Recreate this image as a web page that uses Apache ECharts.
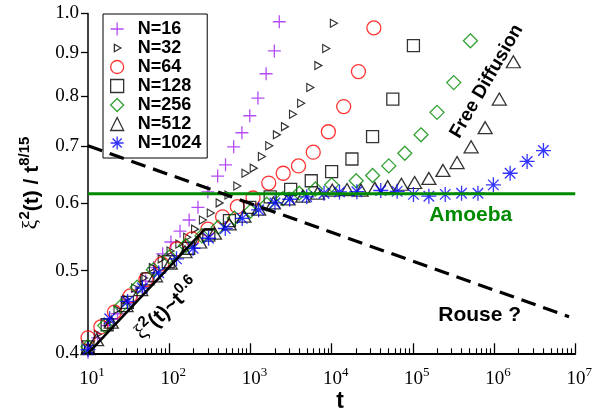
<!DOCTYPE html>
<html><head><meta charset="utf-8">
<script src="https://cdn.jsdelivr.net/npm/echarts@6/dist/echarts.min.js"></script>
<style>html,body{margin:0;padding:0;background:#fff}#c{width:595px;height:414px}</style>
</head><body><div id="c"></div>
<script>
// ---- data (t, xi^2(t)/t^(8/15)) ----
const n16 = [[10,0.401],[13.2,0.417],[17.5,0.431],[23.1,0.445],[30.5,0.458],[40.3,0.472],[51.3,0.486],[64.6,0.504],[83.1,0.523],[105,0.540],[136,0.556],[176,0.573],[226,0.593],[299,0.618],[395,0.645],[494,0.665],[622,0.698],[786,0.725],[982,0.759],[1238,0.796],[1560,0.850],[1970,0.904],[2266,0.978]];
const n32 = [[10,0.406],[13.2,0.421],[17.5,0.435],[23.1,0.450],[29.6,0.463],[38.1,0.477],[48.9,0.490],[62.9,0.504],[80.8,0.516],[103.8,0.527],[133.3,0.537],[166.6,0.547],[208.2,0.559],[260.1,0.573],[325.1,0.584],[417.7,0.600],[536.6,0.613],[689.7,0.628],[869,0.650],[1098,0.659],[1384,0.680],[1705,0.700],[2119,0.721],[2663,0.737],[3345,0.762],[4214,0.785],[5462,0.819],[6863,0.869],[8578,0.910],[10660,0.974]];
const n64 = [[10,0.417],[14.4,0.4295],[21.2,0.447],[33.1,0.467],[51.7,0.488],[80.8,0.509],[123.7,0.530],[191.5,0.5445],[299,0.559],[454,0.578],[690,0.594],[1077,0.608],[1681,0.633],[2533,0.650],[3911,0.663],[5936,0.688],[9118,0.727],[14080,0.778],[21390,0.855],[33110,0.962]];
const n128 = [[10,0.407],[17.2,0.432],[30.5,0.459],[54.7,0.489],[97.3,0.512],[173.7,0.531],[307.5,0.550],[551.8,0.572],[982,0.593],[1753,0.610],[3129,0.6225],[5615,0.637],[10000,0.653],[17790,0.6755],[31930,0.7175],[56670,0.794],[101700,0.917]];
const n256 = [[10,0.407],[16.05,0.431],[25.42,0.454],[40.25,0.478],[63.74,0.501],[100.9,0.519],[159.8,0.535],[252.9,0.549],[400.5,0.562],[634.3,0.576],[1004,0.587],[1591,0.598],[2518,0.607],[3988,0.616],[6313,0.623],[10000,0.630],[20060,0.637],[31940,0.646],[50580,0.663],[79620,0.686],[126100,0.721],[198500,0.766],[318800,0.830],[511700,0.929]];
const n512 = [[10,0.405],[12.74,0.415],[19.35,0.435],[29.38,0.455],[44.63,0.475],[67.76,0.493],[102.9,0.510],[156.3,0.526],[237.4,0.540],[360.5,0.553],[547.4,0.567],[831.2,0.579],[1262,0.590],[1917,0.600],[2911,0.6065],[4420,0.611],[6714,0.616],[10190,0.621],[15480,0.622],[23060,0.621],[34060,0.624],[48920,0.627],[72250,0.631],[105200,0.634],[157600,0.641],[234800,0.655],[350500,0.669],[521900,0.698],[777300,0.735],[1161000,0.794],[1729000,0.878]];
const n1024 = [[10,0.404],[18.5,0.439],[30.7,0.460],[46.7,0.477],[74.3,0.497],[123,0.516],[197,0.531],[305,0.5455],[490,0.560],[793,0.5755],[1262,0.589],[2005,0.600],[3043,0.606],[4940,0.610],[8070,0.616],[12500,0.618],[20470,0.6185],[40300,0.6205],[64100,0.619],[101800,0.614],[157500,0.611],[250600,0.614],[398100,0.616],[633800,0.616],[981000,0.630],[1577000,0.650],[2554000,0.671],[4060000,0.691]];
// guide lines
const amoebaLine = [[10,0.615],[1e7,0.615]];
const rouseLine = [[10,0.700],[8.38e6,0.4415]];
const powerLine = [[10,0.400],[273,0.5587],[343,0.5587]];
// ticks
const xMajorTicks = [1e1,1e2,1e3,1e4,1e5,1e6,1e7];
const xMinorTicks = [20,30,40,50,60,70,80,90,200,300,400,500,600,700,800,900,2e3,3e3,4e3,5e3,6e3,7e3,8e3,9e3,2e4,3e4,4e4,5e4,6e4,7e4,8e4,9e4,2e5,3e5,4e5,5e5,6e5,7e5,8e5,9e5,2e6,3e6,4e6,5e6,6e6,7e6,8e6,9e6];
const yTicks = [0.4,0.5,0.6,0.7,0.8,0.9,1.0];
const seriesNames = ['N=16','N=32','N=64','N=128','N=256','N=512','N=1024'];

const SANS = '"Liberation Sans", Arial, Helvetica, sans-serif';
const SERIF = '"Liberation Serif", "Times New Roman", serif';
const PURPLE = '#a020f0', GREEN = '#008a00';

const chart = echarts.init(document.getElementById('c'), null, {renderer:'canvas', width:595, height:414});

function sc(name, data, symbol, size, color, bw) {
  return {type:'scatter', name, data, symbol, symbolSize:size,
    itemStyle:{color:'transparent', borderColor:color, borderWidth:bw||1.3},
    emphasis:{disabled:true}, silent:true, clip:false, animation:false};
}
function ln(data, color, width, type) {
  return {type:'line', data, symbol:'none', silent:true, clip:false, animation:false,
    lineStyle:{color, width, type: type||'solid', cap:'butt'}, emphasis:{disabled:true}, z:4};
}
const plusPath = 'path://M0,6L12,6M6,0L6,12';
const starPath = 'path://M0,6L12,6M6,0L6,12M1.8,1.8L10.2,10.2M1.8,10.2L10.2,1.8';
const rtriPath = 'path://M0,0L10,5L0,10Z';

const supRich = {
  m:{fontFamily:SERIF, fontSize:19, color:'#000', verticalAlign:'bottom', padding:[0,0,0,8]},
  s:{fontFamily:SERIF, fontSize:13, color:'#000', verticalAlign:'bottom', padding:[0,0,9,0]}
};

const option = {
  backgroundColor:'#fff',
  animation:false,
  grid:{left:88, right:11, top:13.5, bottom:60.7},
  xAxis:[{
    type:'log', logBase:10, min:10, max:1e7, position:'bottom',
    axisLine:{show:true, onZero:false, lineStyle:{color:'#000', width:2}},
    axisTick:{show:true, inside:true, length:10, customValues:xMajorTicks, lineStyle:{color:'#000', width:1.3}},
    axisLabel:{customValues:xMajorTicks, margin:13, rich:supRich,
      formatter:v => '{m|10}{s|' + Math.round(Math.log10(v)) + '}'},
    splitLine:{show:false}, minorTick:{show:false}
  },{
    type:'log', logBase:10, min:10, max:1e7, position:'bottom',
    axisLine:{show:false},
    axisTick:{show:true, inside:true, length:5, customValues:xMinorTicks, lineStyle:{color:'#000', width:1.1}},
    axisLabel:{show:false}, splitLine:{show:false}
  }],
  yAxis:{
    type:'log', logBase:10, min:0.4, max:1.0,
    axisLine:{show:true, onZero:false, lineStyle:{color:'#000', width:1.5}},
    axisTick:{show:true, inside:false, length:7, customValues:yTicks, lineStyle:{color:'#000', width:1.3}},
    axisLabel:{customValues:yTicks, margin:9, fontFamily:SERIF, fontSize:19, color:'#000',
      formatter:v => Number(v).toFixed(1)},
    splitLine:{show:false}, minorTick:{show:false}
  },
  legend:{
    orient:'vertical', left:103, top:14, padding:[6,6,6,7],
    itemWidth:13, itemHeight:13, itemGap:1,
    backgroundColor:'#fff', borderColor:'#000', borderWidth:1,
    itemStyle:{borderWidth:1.3},
    textStyle:{fontFamily:SANS, fontSize:18, fontWeight:'bold', color:'#000', lineHeight:13, padding:[0,0,0,9]},
    selectedMode:false,
    data:[seriesNames[0], {name:seriesNames[1], icon:'path://M0,0M14,14M4,3L11,7L4,11Z'}, seriesNames[2], seriesNames[3], seriesNames[4], seriesNames[5], seriesNames[6]]
  },
  series:[
    sc(seriesNames[0], n16, plusPath, 13, PURPLE),
    sc(seriesNames[1], n32, rtriPath, [7,8], '#000', 1.2),
    sc(seriesNames[2], n64, 'circle', 14, '#ff0000'),
    sc(seriesNames[3], n128, 'rect', 12, '#000'),
    sc(seriesNames[4], n256, 'diamond', 14, GREEN),
    sc(seriesNames[5], n512, 'triangle', [14,12], '#000'),
    ln(amoebaLine, GREEN, 3),
    sc(seriesNames[6], n1024, starPath, 15, '#0000ff'),
    ln(rouseLine, '#000', 3.2, [15,8]),
    ln(powerLine, '#000', 2.5)
  ],
  graphic:[
    {type:'text', x:486.7, y:81.3, rotation:60*Math.PI/180, silent:true,
      style:{text:'Free Diffusion', font:'bold 19px '+SANS, fill:'#000', align:'center', verticalAlign:'middle'}},
    {type:'text', x:470.8, y:215, silent:true,
      style:{text:'Amoeba', font:'bold 21px '+SANS, fill:GREEN, align:'center', verticalAlign:'middle'}},
    {type:'text', x:479.7, y:315.3, silent:true,
      style:{text:'Rouse ?', font:'bold 21px '+SANS, fill:'#000', align:'center', verticalAlign:'middle'}},
    {type:'text', x:166, y:308, rotation:43*Math.PI/180, silent:true,
      style:{text:'{g|ξ}{s|2}{b|(t)~t}{s|0.6}', align:'center', verticalAlign:'middle',
        rich:{
          g:{fontFamily:SERIF, fontSize:22, fill:'#000', verticalAlign:'bottom'},
          b:{fontFamily:SANS, fontWeight:'bold', fontSize:21, fill:'#000', verticalAlign:'bottom'},
          s:{fontFamily:SANS, fontWeight:'bold', fontSize:15, fill:'#000', verticalAlign:'bottom', padding:[0,0,10,0]}
        }}},
    {type:'text', x:30, y:183, rotation:Math.PI/2, silent:true,
      style:{text:'{g|ξ}{s|2}{b|(t) / t}{s|8/15}', align:'center', verticalAlign:'middle',
        rich:{
          g:{fontFamily:SERIF, fontSize:22, fill:'#000', verticalAlign:'bottom'},
          b:{fontFamily:SANS, fontWeight:'bold', fontSize:21, fill:'#000', verticalAlign:'bottom'},
          s:{fontFamily:SANS, fontWeight:'bold', fontSize:15, fill:'#000', verticalAlign:'bottom', padding:[0,0,10,0]}
        }}},
    {type:'text', x:340, y:402, silent:true,
      style:{text:'t', font:'bold 23px '+SANS, fill:'#000', align:'center', verticalAlign:'middle'}}
  ]
};
chart.setOption(option);
</script>
</body></html>
